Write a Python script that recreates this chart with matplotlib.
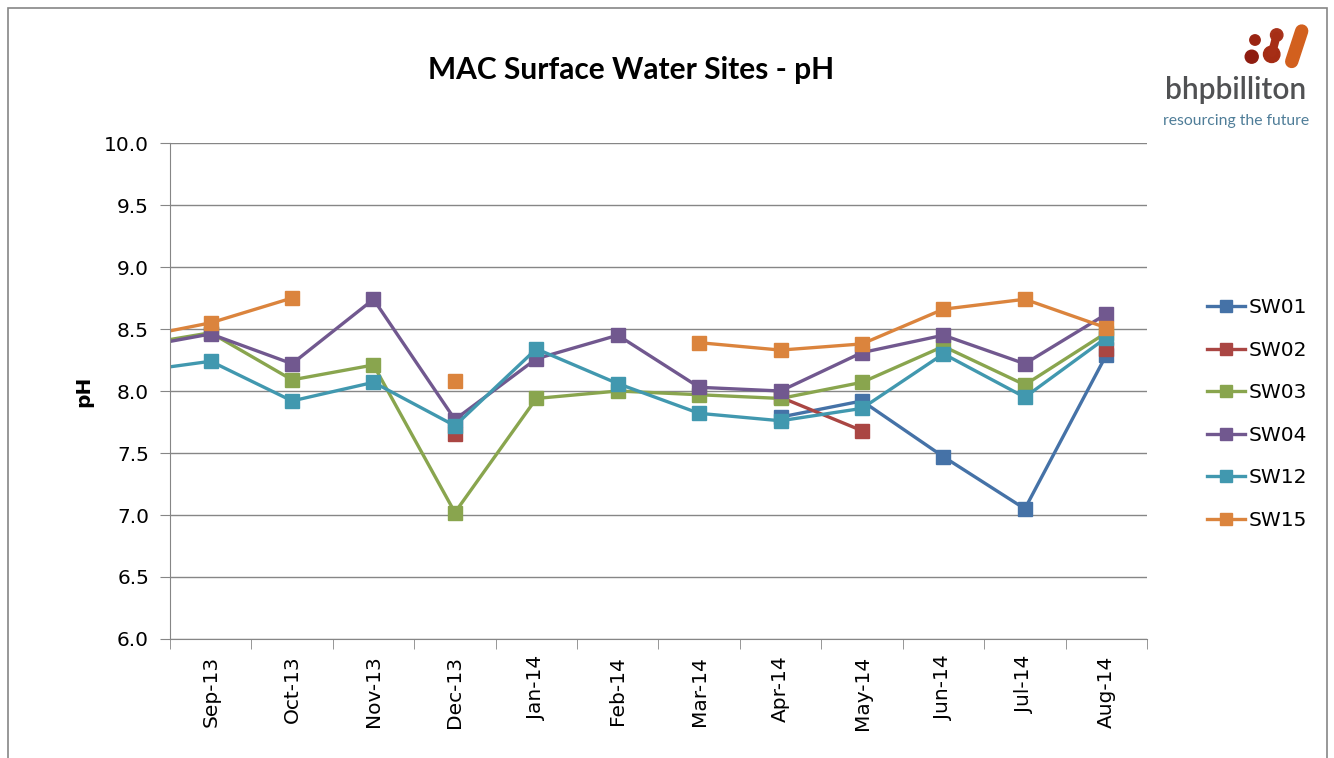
import matplotlib.pyplot as plt
from matplotlib.patches import Rectangle, Circle
import numpy as np

nan = np.nan

# categories (first one is the off-chart Aug-13 point that the lines come in from)
months = ["Aug-13", "Sep-13", "Oct-13", "Nov-13", "Dec-13", "Jan-14", "Feb-14",
          "Mar-14", "Apr-14", "May-14", "Jun-14", "Jul-14", "Aug-14"]

sw01 = [nan, nan, nan, nan, nan, nan, nan, nan, 7.79, 7.92, 7.47, 7.05, 8.29]
sw02 = [nan, nan, nan, nan, 7.65, nan, nan, nan, 7.95, 7.68, nan, nan, 8.34]
sw03 = [8.36, 8.47, 8.09, 8.21, 7.02, 7.94, 8.00, 7.97, 7.94, 8.07, 8.36, 8.05, 8.47]
sw04 = [8.34, 8.46, 8.22, 8.74, 7.77, 8.26, 8.45, 8.03, 8.00, 8.31, 8.45, 8.22, 8.62]
sw12 = [8.15, 8.24, 7.92, 8.07, 7.72, 8.34, 8.06, 7.82, 7.76, 7.86, 8.30, 7.95, 8.43]
sw15 = [8.42, 8.55, 8.75, nan, 8.08, nan, nan, 8.39, 8.33, 8.38, 8.66, 8.74, 8.51]

series = [("SW01", sw01, "#4572A7"), ("SW02", sw02, "#AA4643"),
          ("SW03", sw03, "#89A54E"), ("SW04", sw04, "#71588F"),
          ("SW12", sw12, "#4198AF"), ("SW15", sw15, "#DB843D")]

plt.rcParams['font.family'] = ['DejaVu Sans']

fig = plt.figure(figsize=(13.34, 7.58), dpi=100)
ax = fig.add_axes([0.1274, 0.157, 0.7324, 0.6543])

x = np.arange(len(months)) - 1
for name, vals, col in series:
    ax.plot(x, vals, color=col, lw=2.4, marker="s", markersize=10,
            markeredgecolor=col, label=name, clip_on=True)

ax.set_xlim(-0.5, 11.5)
ax.set_ylim(6.0, 10.0)
ax.set_yticks(np.arange(6.0, 10.01, 0.5))
ax.set_yticklabels(["%.1f" % v for v in np.arange(6.0, 10.01, 0.5)], fontsize=14.5)
ax.set_xticks(np.arange(12))
ax.set_xticklabels(months[1:], rotation=90, fontsize=14.5)
ax.set_xticks(np.arange(-0.5, 12, 1), minor=True)
ax.tick_params(axis="x", which="major", length=0, pad=12)
ax.tick_params(axis="x", which="minor", length=7, color="#868686")
ax.tick_params(axis="y", length=7, color="#868686", pad=8)
ax.yaxis.grid(True, color="#868686", lw=1)
ax.set_axisbelow(True)
for s in ["top", "right"]:
    ax.spines[s].set_visible(False)
ax.spines["left"].set_color("#868686")
ax.spines["bottom"].set_color("#868686")
ax.set_ylabel("pH", fontsize=14.5, fontweight="bold", labelpad=8)

ax.set_title("MAC Surface Water Sites - pH", fontsize=21.5, fontweight="bold",
             pad=46, x=0.472, family="Lato")

ax.legend(loc="center left", bbox_to_anchor=(1.043, 0.4536), frameon=False,
          fontsize=14.5, handlelength=1.9, handletextpad=0.15, labelspacing=1.17,
          markerscale=0.85)

# chart border
fig.patches.append(Rectangle((0.006, -0.01), 0.989, 1.0, transform=fig.transFigure,
                             fill=False, edgecolor="#868686", lw=1.2))

# logo, drawn in pixel coordinates
lax = fig.add_axes([1236 / 1334, 1 - 75 / 758, 80 / 1334, 60 / 758])
lax.set_xlim(1236, 1316)
lax.set_ylim(75, 15)
lax.axis("off")
lax.add_patch(Circle((1251.7, 56.7), 6.5, color="#8e1c10"))
lax.add_patch(Circle((1255, 40), 5.2, color="#9a2412"))
lax.add_patch(Circle((1276.7, 35), 6.2, color="#a8321a"))
lax.add_patch(Circle((1271.7, 54.3), 8.2, color="#a42c14"))
lax.plot([1272, 1276.5], [53, 36], color="#a62e16", lw=6, solid_capstyle="round")
lax.plot([1291.7, 1301.7], [61.5, 31], color="#d2601e", lw=9.6, solid_capstyle="round")
fig.text(1236 / 1334, 1 - 99 / 758, "bhpbilliton", fontsize=21.5, color="#505153",
         ha="center", family="Lato", fontweight="semibold")
fig.text(1236 / 1334, 1 - 125 / 758, "resourcing the future", fontsize=11.3,
         color="#4f7d98", ha="center", family="Lato")

plt.savefig("out.png", dpi=100)
